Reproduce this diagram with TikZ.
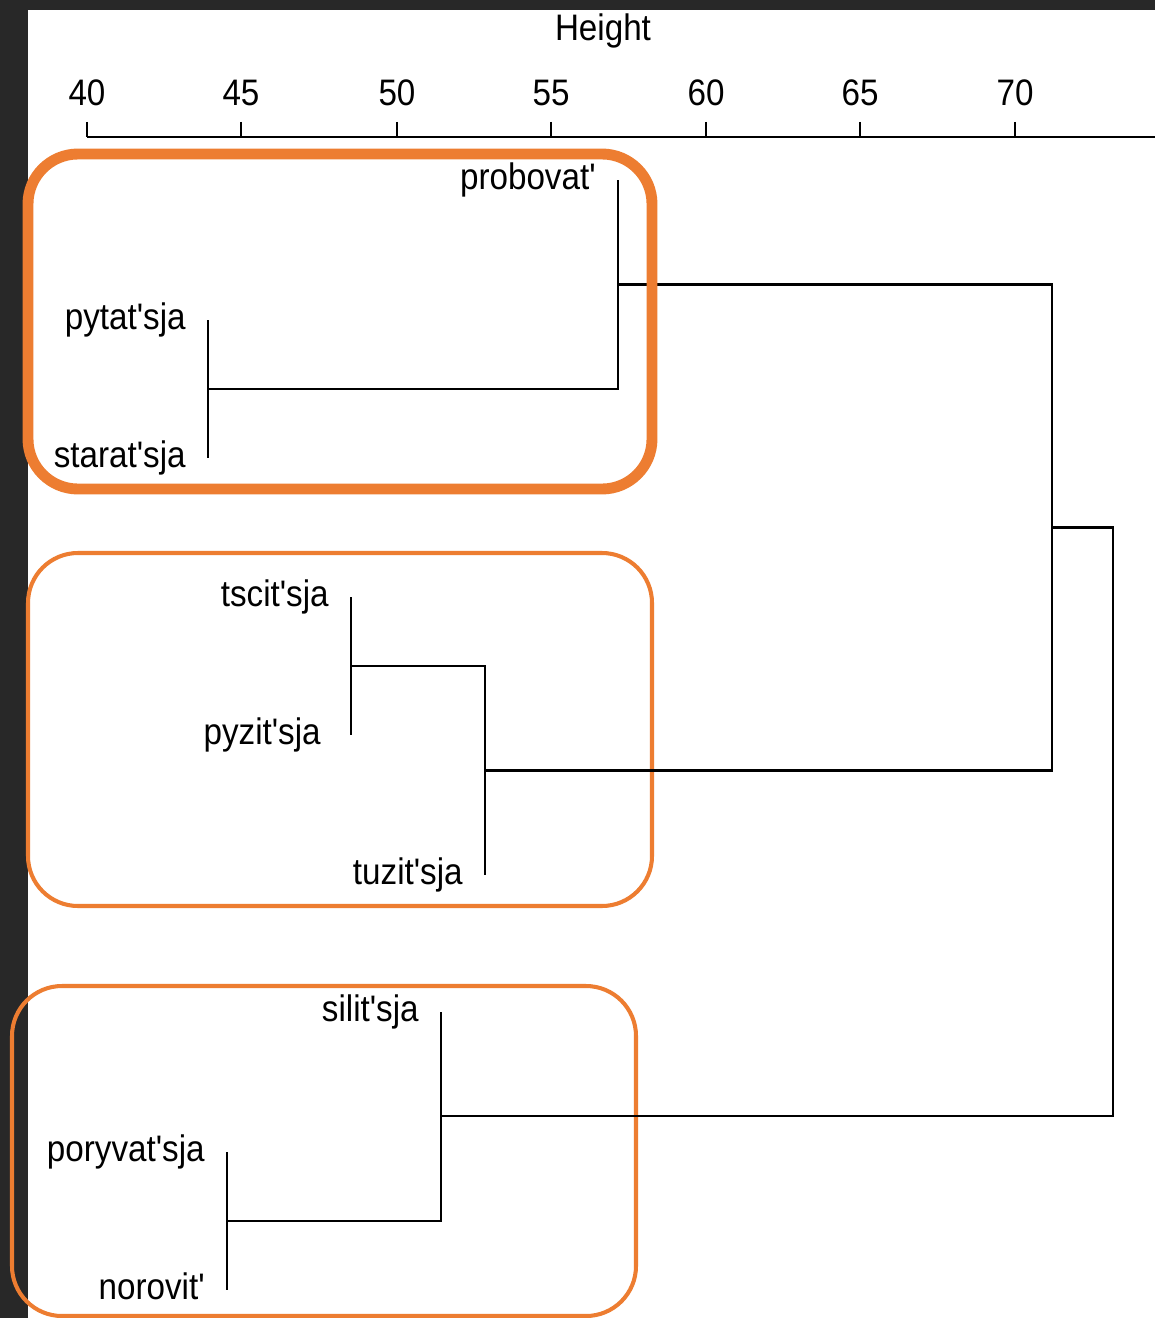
\documentclass[tikz,border=0pt]{standalone}
\usepackage{fontspec}
\setmainfont{Liberation Sans}[FakeStretch=0.9, Ligatures=TeXOff]
\usetikzlibrary{calc}
\definecolor{frame}{HTML}{282828}
\definecolor{hilite}{HTML}{ED7D31}

\begin{document}
\begin{tikzpicture}[x = 0.02cm, y = -0.02cm,
  branch/.style = {line width = 1.2pt, color = black},
  leaflabel/.style = {anchor = base east, inner sep = 0pt, font = \fontsize{21}{25}\selectfont},
  ticklabel/.style = {anchor = base, inner sep = 0pt, font = \fontsize{21}{25}\selectfont},
  group/.style = {draw = hilite, rounded corners = 1cm}]
\useasboundingbox (0,0) rectangle (1155,1318);
\fill [color = frame] (0,0) rectangle (1155,1318);
\fill [color = white] (28,10) rectangle (1155,1318);
\node [ticklabel] (title) at (603,41) {Height};
\draw [branch] (87,137) -- (1155,137);
\foreach \h/\x in {40/87,45/241,50/397,55/551,60/706,65/860,70/1015}
{
  \draw [branch] (\x,122) -- (\x,137);
  \node [ticklabel] (tick\h) at (\x,106) {\h};
}
\draw [group, line width = 2.3pt] (28,553) rectangle (652,906);
\draw [group, line width = 2.3pt] (12,986) rectangle (636,1316);
\coordinate (pro) at (618,180);
\coordinate (pyt) at (208,320);
\coordinate (sta) at (208,458);
\coordinate (tsc) at (351,597);
\coordinate (pyz) at (351,735);
\coordinate (tuz) at (485,875);
\coordinate (sil) at (441,1012);
\coordinate (por) at (227,1152);
\coordinate (nor) at (227,1290);
\coordinate (c1) at (208,389);
\coordinate (c2) at (618,284.5);
\coordinate (c3) at (351,666);
\coordinate (c4) at (485,770.5);
\coordinate (c5) at (1052,527.5);
\coordinate (c6) at (227,1221);
\coordinate (c7) at (441,1116);
\coordinate (c8) at (1113,822);
\draw [branch] (pyt) -- (sta);
\draw [branch] (pro) -- (pro |- c1) -- (c1);
\draw [branch] (tsc) -- (pyz);
\draw [branch] (c3) -- (c3 -| c4) -- (tuz);
\draw [branch] (c2) -- (c2 -| c5) -- (c4 -| c5) -- (c4);
\draw [branch] (por) -- (nor);
\draw [branch] (sil) -- (sil |- c6) -- (c6);
\draw [branch] (c5) -- (c5 -| c8) -- (c7 -| c8) -- (c7);
\node [leaflabel] (lpro) at ($(pro)+(-22,9)$) {probovat'};
\node [leaflabel] (lpyt) at ($(pyt)+(-22,9)$) {pytat'sja};
\node [leaflabel] (lsta) at ($(sta)+(-22,9)$) {starat'sja};
\node [leaflabel] (ltsc) at ($(tsc)+(-22,9)$) {tscit'sja};
\node [leaflabel] (lpyz) at ($(pyz)+(-30,9)$) {pyzit'sja};
\node [leaflabel] (ltuz) at ($(tuz)+(-22,9)$) {tuzit'sja};
\node [leaflabel] (lsil) at ($(sil)+(-22,9)$) {silit'sja};
\node [leaflabel] (lpor) at ($(por)+(-22,9)$) {poryvat'sja};
\node [leaflabel] (lnor) at ($(nor)+(-22,9)$) {norovit'};
\draw [group, line width = 6.2pt] (28,154) rectangle (652,489);
\end{tikzpicture}
\end{document}
